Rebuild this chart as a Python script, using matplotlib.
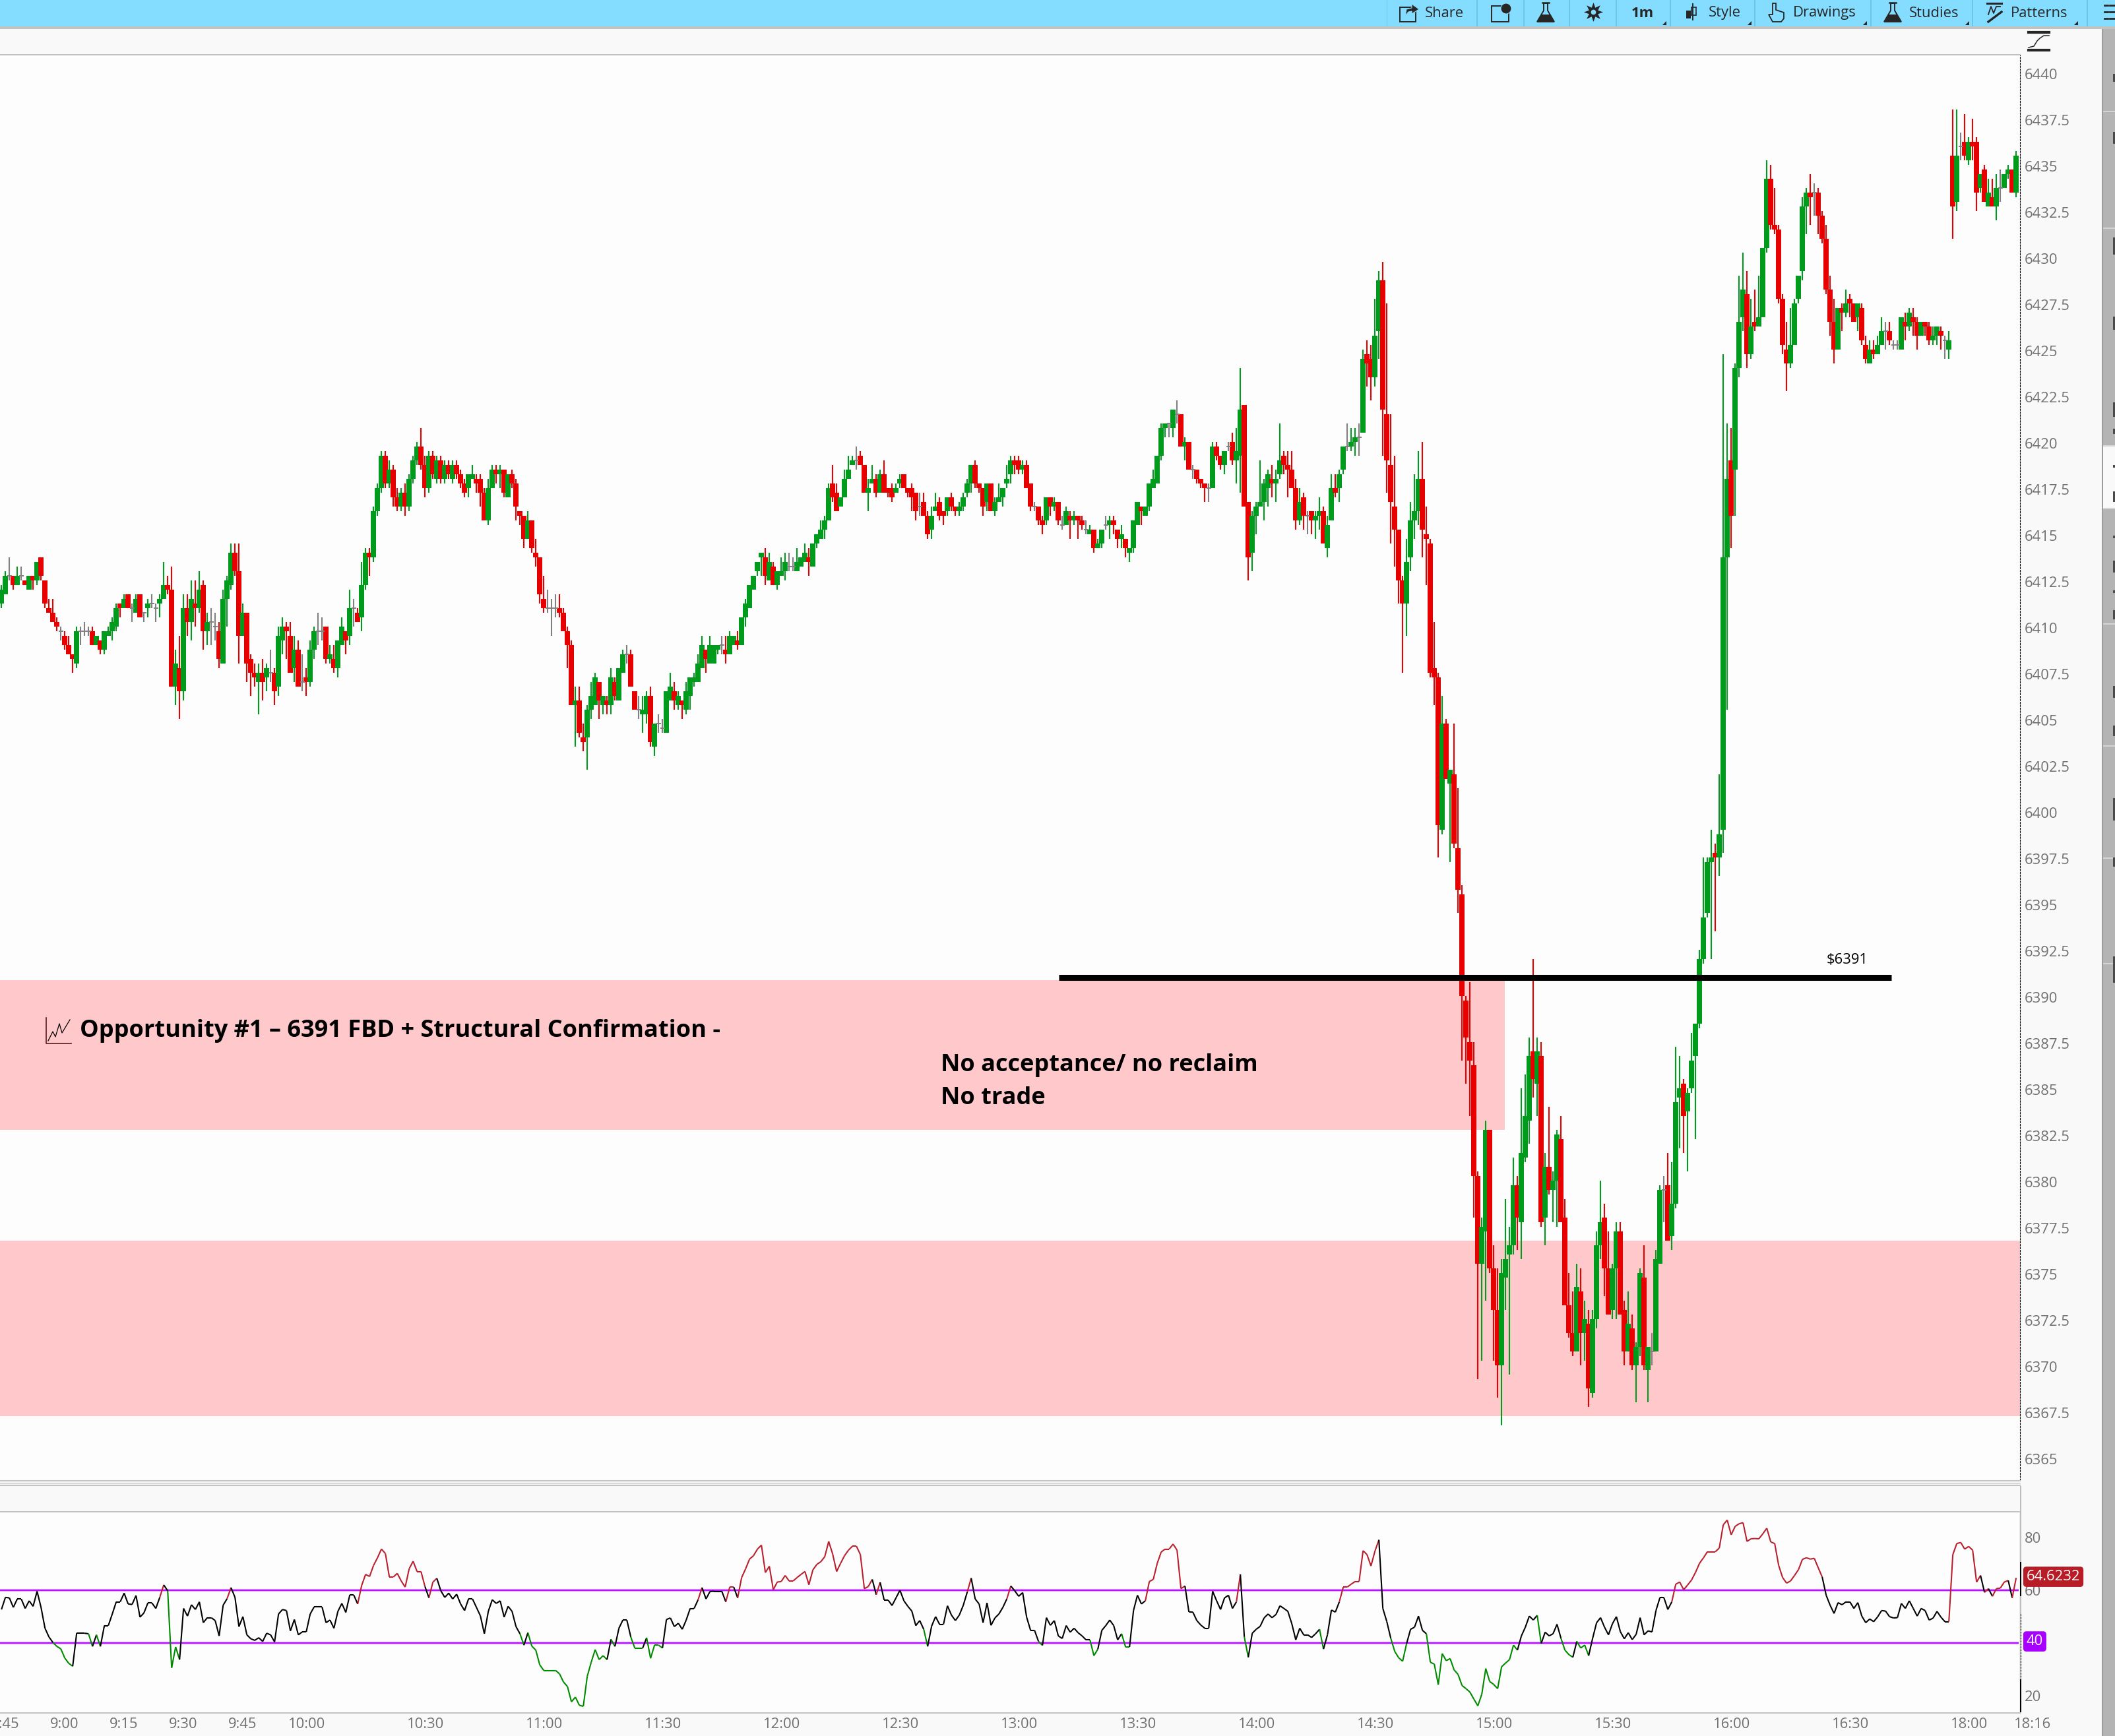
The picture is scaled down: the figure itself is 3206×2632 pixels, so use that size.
import numpy as np
import matplotlib
matplotlib.use('Agg')
import matplotlib.pyplot as plt
from matplotlib.collections import LineCollection
from matplotlib.patches import Rectangle, Polygon, Circle
from matplotlib.transforms import ScaledTranslation

plt.rcParams['font.family'] = ['Open Sans', 'DejaVu Sans']

# 1 minute bars, first bar is about 8:44
opens = [
6411.25,6411.75,6412.75,6412.75,6412.25,6412.75,6412.5,6412,6412.75,6412.5,
6413.75,6412.5,6411,6410.75,6410.25,6409.75,6409.5,6409,6408.5,6408,
6409.75,6409.75,6409.75,6409.75,6409,6409.25,6408.75,6409.5,6409.75,6410,
6411.25,6411,6411.75,6411,6410.75,6411.75,6410.75,6411,6411.25,6411,
6411.25,6411.5,6412.25,6412,6406.75,6407.75,6406.5,6411,6410.25,6411.25,
6411,6412.25,6409.75,6410.25,6410,6409.75,6408,6411.5,6412.25,6414,
6413,6409.5,6410.75,6408.25,6407.5,6407,6407.5,6407.25,6407.5,6407.5,
6406.75,6409.25,6410,6409.5,6407.75,6408.75,6407,6407.25,6407,6408.75,
6409.75,6409.75,6410,6408.25,6408.25,6407.75,6409,6409.75,6409.5,6411,
6410.75,6410.5,6412.25,6414,6413.75,6416.25,6417.5,6419.25,6417.75,6418.5,
6417,6416.5,6417.25,6416.5,6418,6419,6419.75,6418.75,6417.5,6419.25,
6418,6419,6418,6418.75,6418,6418.75,6418.25,6417.75,6417.5,6418,
6418,6418,6417.25,6415.75,6417.5,6418.5,6418.25,6418.5,6417,6418.25,
6417.75,6416.25,6416,6414.75,6415.75,6414,6413.75,6411.5,6411,6411,
6411,6411,6410.75,6409.75,6409,6405.75,6406,6404,6404,6405.5,
6405.75,6407,6405.75,6406,6405.75,6407,6406,6407.5,6408.5,6408.5,
6406.5,6405.5,6405.25,6405.25,6406.25,6403.5,6404.75,6404.5,6404.25,6406,
6406.5,6405.75,6406,6405.5,6406.25,6407,6407,6407.75,6408.75,6408,
6408,6408.75,6409,6408.75,6408.5,6409,6409.25,6409,6410.5,6411,
6412,6413,6413.75,6413.75,6412.5,6413.25,6412.25,6412.75,6413,6413.25,
6413.25,6413,6413.25,6413.5,6413.75,6413.25,6414.5,6414.75,6415.25,6415.75,
6417.75,6417.25,6416.5,6417,6418,6418.75,6419,6419.25,6418.75,6417.25,
6417.75,6418,6417.25,6418.25,6417.5,6417.5,6417.25,6417.75,6418.25,6417.5,
6417.5,6417.25,6416.5,6416.75,
6416,6415.25,6416.25,6416.75,6416.25,6416.25,6417,6416.5,6416.25,6416.5,
6417.25,6417.75,6418.75,6417.75,6417.5,6416.75,6417.75,6416.25,6416.75,6417,
6417.75,6418.25,6419,6419,6418.5,6418.75,6417.75,6416.5,6416.5,6415.75,
6415.75,6417,6416.5,6416.75,6415.5,6415.5,6416,6415.75,6416,6415.75,
6415.25,6415,6415.25,6414.25,6414.5,6415.5,6415.5,6415.75,6415.25,6414.75,
6414.75,6414,6414.25,6415.5,6416.5,6416,6416.5,6417.5,6417.75,6419.25,
6420.75,6421,6420.75,6421.5,6421.5,6419.75,6420,6418.5,6418.5,6418,
6417.75,6417.5,6417.5,6419.75,6419.25,6418.75,6419.75,6420,6419,6419.25,
6422,6416.75,6414,6416,6416.5,6416.75,6417.5,6418,6417.75,6418.25,
6419.25,6418.75,6418.5,6417.5,6415.75,6417,6416,6416.25,6415.75,6416,
6416.25,6414.25,6415.75,6417.5,6417.5,6418.5,6419.75,6419.75,6420,6420.25,
6420.5,6424.75,6424.5,6423.5,6426,6428.75,6421.5,6418.75,6416.5,6415.25,
6412.5,6411.25,6413.75,6415.75,6416.25,6418,6415,6414.5,6407.75,
6407.25,6399,6404.75,6401.5,6402,6398,6395.5,
6389.75,6387.5,6386.25,6380.25,6375.5,6377.25,6382.75,6375.25,6373,6370,
6374.75,6376,6376.5,6379.75,6377.75,6381.25,6383.25,6387,6385.25,6386.75,
6378,6380.75,6379.5,6380,6382.25,6378,6373.25,6371.75,6370.75,6374,
6371.75,6372.25,6368.5,6372.5,6376.5,6378,6375.25,6373,6375.25,6377.25,
6373,6370.75,6372,6370,6371,6374.75,6369.75,6370.75,6370.75,6375.5,
6379.5,6379.75,6377,6378.75,6384.5,6385.25,6383.75,6385,6386.75,6388.5,
6392,6394.5,6397.25,6397.75,6397.5,6399,6413.75,6419,6418.5,6424,
6426.75,6428,6424.75,6426.5,6426.25,6426.75,6430.5,6434.25,6431.75,6431.5,
6427.75,6425,6424.25,6425.25,6427.75,6429.25,6432.75,6433.5,6433.5,6433.5,
6432.25,6431,6428.25,6426.5,6425,6427.25,6427,6427.75,6427.5,6426.75,
6427.25,6425.25,6424.25,6425,6424.75,6425.25,6426,6426,6425.25,6425.25,
6425,6426.5,6426.25,6426.75,6426.5,6425.75,6426.5,6426.25,6425.5,6425.75,
6426,6425.5,6425,6435.5,6433,6436,6436.25,6435.25,6436.25,6436.25,
6433.75,6434.75,6432.75,6433.25,6432.75,6433.75,6433.75,6434.5,6434.75,6433.5]

closes = [
6412,6412.75,6412.75,6412.25,6412.75,6412.75,6412.25,6412.75,6412.5,6413.5,
6412.75,6411.25,6410.75,6410.25,6410,6409.75,6409,6408.5,6408.25,6409.75,
6409.75,6409.75,6409.75,6409,6409.5,6408.75,6409.75,6409.75,6410.25,6411,
6411,6411.5,6411,6411,6411.5,6410.5,6410.75,6411.25,6411.25,6411,
6411.5,6412.25,6412,6406.75,6408,6406.5,6411,6410.25,6411.5,6411,
6412,6409.75,6410.25,6410.25,6410,6408.25,6411.5,6412.5,6414,6413,
6409.5,6410.75,6408,6407.5,6407.25,6407.5,6407,6407.75,6407.5,6406.5,
6409.5,6410,6409.75,6407.5,6408.75,6406.75,6407,6407,6408.75,6409.75,
6409.75,6409.75,6408.25,6408.5,6407.75,6409.25,6410,6409.25,6411,6411,
6410.25,6412.25,6414,6413.75,6416.25,6417.5,6419.25,6417.75,6418.5,6417,
6416.5,6417.25,6416.5,6418,6419,6419.75,6418.75,6417.5,6419.25,6418.25,
6419,6418,6418.75,6418.25,6418.75,6418.25,6417.75,6417.25,6418.25,6418.25,
6417.75,6417.25,6415.75,6417.5,6418.5,6418.25,6418.5,6417.25,6418.25,6417.75,
6416.5,6416,6414.75,6415.75,6414.25,6413.75,6411.75,6411,6411,6411,
6411,6410.75,6409.75,6409,6405.75,6406,6404.25,6403.75,6405.5,6406.25,
6407.25,6406,6406.25,6405.75,6407.25,6406.25,6407.75,6408.5,6408.5,6406.75,
6405.5,6405.5,6405.5,6406.25,6403.75,6404.75,6404.75,6404.5,6406.5,6406.75,
6406,6406.25,6405.75,6406.5,6407.25,6407.25,6408,6409,6408.25,6409,
6409,6409,6409,6408.5,6409.5,6409.5,6409,6410.5,6411.25,6412.25,
6412.75,6413.5,6414,6412.75,6413.5,6412.25,6413,6413,6413.5,6413.25,
6413.25,6413.5,6413.75,6414,6413.5,6414.5,6415,6415.25,6415.75,6417.5,
6417,6416.25,6417,6418,6418.5,6419,6419,6418.75,6417.25,6417.5,
6418,6417.25,6418.25,6417.25,6417.25,6417,6417.5,6418,6417.5,6417.25,
6417,6416.25,6416.5,6416,
6415,6416,6416.5,6416,6416,6417,6416.5,6416.25,6416.5,6417,
6417.75,6418.75,6417.75,6417.5,6416.5,6417.75,6416.25,6416.75,6417,6417.5,
6418,6419,6418.75,6418.5,6418.75,6417.5,6416.5,6416.5,6415.75,6415.5,
6417,6416.5,6416.75,6415.75,6415.5,6416.25,6415.75,6416,6415.75,6415.5,
6415.25,6415.25,6414.25,6414.5,6415.25,6415.5,6415.75,6415.5,6414.75,6415,
6414.25,6414.25,6415.75,6416.75,6416.25,6416.5,6417.75,6418,6419.25,6420.75,
6421,6421,6421.75,6421.5,6419.75,6420,6418.5,6418.5,6418,6417.75,
6417.5,6417.5,6419.75,6419.25,6418.75,6419.5,6419.75,6419,6419.5,6421.75,
6416.5,6413.75,6416,6416.5,6416.75,6417.75,6418.25,6417.75,6418,6419,
6418.75,6418.5,6417.5,6415.75,6416.75,6416,6416,6415.75,6416,6416.25,
6414.5,6415.5,6417.5,6417.25,6418.25,6419.75,6419.75,6420,6420.25,6420.25,
6424.5,6424.25,6423.5,6425.75,6428.75,6421.75,6419,6416.75,6415.25,6412.5,
6411.25,6413.5,6415.75,6416.25,6418,6415.25,6414.75,6407.5,6407.25,
6399.25,6404.75,6401.75,6402.25,6398.25,6395.75,6390,
6387.75,6386.5,6380.25,6375.5,6377.5,6382.75,6375.25,6373,6370,6375,
6375.75,6376.5,6379.75,6378,6381.5,6383.5,6386.75,6385.5,6387,6377.75,
6380.75,6379.5,6380,6382.5,6377.75,6373.25,6371.75,6370.75,6374.25,6371.75,
6372.5,6368.75,6372.5,6376.5,6377.75,6375.25,6372.75,6375.25,6377.25,6372.75,
6370.75,6372.25,6370,6371,6375,6370,6371,6370.75,6375.75,6379.5,
6379.5,6376.75,6378.75,6384.25,6385,6383.5,6384.75,6386.5,6388.5,6392,
6394.25,6397.25,6397.5,6397.5,6398.75,6413.75,6418,6416,6424,6426.5,
6428.25,6424.75,6426.25,6426.25,6426.75,6430.5,6434.25,6431.75,6431.5,6427.75,
6425.25,6424.25,6425.25,6427.5,6429,6432.75,6433.5,6433.25,6433.5,6432.25,
6431,6428.25,6426.5,6425,6427.25,6427,6427.5,6427.5,6426.5,6427.5,
6425.5,6424.5,6425,6424.75,6425.25,6426,6426,6425.5,6425.25,6425.25,
6426.75,6426.25,6427,6426.5,6425.75,6426.5,6426.25,6425.5,6425.75,6426.25,
6425.75,6425.5,6425.5,6432.75,6435.5,6436,6435.5,6436.25,6436,6433.5,
6434.5,6433,6433.5,6432.75,6433.75,6433.75,6434.5,6434.75,6433.5,6435.5]

highs = [
6412.25,6413,6413.75,6412.75,6413.25,6413.25,6412.5,6412.75,6412.75,6413.5,
6413.75,6412.5,6411.5,6411.5,6410.5,6410,6409.75,6409.5,6408.5,6410,
6410,6410.25,6410,6410,6409.5,6409.25,6409.75,6410,6410.5,6411.25,
6411.25,6411.75,6411.75,6411.25,6411.75,6411.75,6410.75,6411.5,6411.75,6411.25,
6411.75,6413.5,6412.75,6413.25,6408.75,6409.5,6411.75,6411.75,6412.5,6412.5,
6413,6412.5,6410.75,6411,6410.75,6410.25,6412,6412.75,6414.5,6414.5,
6414.5,6411.25,6410.75,6408.5,6408,6408,6408.25,6408,6408.75,6407.75,
6410,6410.5,6410.25,6410.25,6409.5,6409.25,6408.5,6407.75,6409.25,6410,
6410.75,6410.5,6410,6409,6409,6409.25,6410.5,6409.75,6412,6411.5,
6411,6413.5,6414.25,6414.25,6416.5,6417.75,6419.5,6419.5,6419,6418.75,
6417.5,6417.5,6417.75,6418.25,6419.25,6420,6420.75,6419.25,6419.5,6419.5,
6419.25,6419.25,6419,6419,6419,6419,6418.5,6418,6418.25,6418.75,
6418.25,6418.25,6417.5,6418,6418.75,6418.75,6418.75,6418.5,6418.25,6418.5,
6418,6416.25,6416,6416.25,6415.75,6414.75,6413.75,6412.75,6412,6411.5,
6411.75,6411.75,6411,6410,6409.25,6406.75,6406.75,6404.75,6405.75,6407,
6407.5,6407,6406.25,6406.25,6407.75,6407.25,6407.75,6408.75,6409,6408.75,
6406.5,6406.25,6406.25,6406.5,6406.75,6404.75,6405.25,6405,6406.5,6407.5,
6407,6406.5,6406,6407,6407.25,6407.5,6408.5,6409.5,6408.75,6409.5,
6409,6409,6409.5,6409.5,6409.75,6409.5,6409.75,6410.5,6411.5,6412.25,
6412.75,6413.5,6414,6414.25,6414,6413.5,6413,6413.75,6414,6414,
6413.75,6414.25,6413.75,6414.5,6414.25,6414.5,6415,6415.75,6416,6417.75,
6418.75,6417.75,6417,6418.5,6419.25,6419.25,6419.75,6419.5,6418.75,6418,
6418.75,6418.25,6418.5,6419,6417.5,6417.75,6417.75,6418.25,6418.25,6417.5,
6417.75,6417.25,6417.25,6417.25,
6416.25,6416.5,6417.25,6417,6416.25,6417,6417.25,6416.5,6416.75,6417.25,
6418,6418.75,6419,6417.75,6417.5,6417.75,6417.75,6417,6417.75,6417.5,
6418.75,6419.25,6419.25,6419.25,6419,6419,6417.75,6416.75,6416.5,6416,
6417,6417,6417,6416.75,6416,6416.5,6416.25,6416.25,6416,6416,
6415.75,6415.5,6415.25,6414.75,6415.25,6416,6416,6416,6415.25,6415.5,
6414.75,6414.25,6415.75,6416.75,6416.5,6416.5,6417.75,6418.5,6419.25,6421,
6421,6421,6421.75,6422.25,6421.5,6420.25,6420,6418.75,6418.5,6418,
6417.75,6417.75,6420,6420,6419.25,6419.5,6420,6420.5,6420.75,6424,
6422,6416.75,6416.25,6416.75,6419,6418,6418.5,6418.75,6418.5,6421,
6419.5,6419.5,6419.5,6418,6417.5,6417.25,6416.25,6416.25,6416.25,6417,
6416.5,6416,6418.25,6418.25,6418.5,6419.75,6421,6420.75,6420.75,6421,
6425,6425.5,6425.25,6427.75,6429.25,6429.75,6427.5,6421.5,6419.25,6415.25,
6412.75,6414.75,6416.75,6418.25,6419.5,6420,6416.5,6414.75,6410.25,
6407.5,6406.25,6405,6402.25,6404.75,6401.25,6396,
6390,6390.75,6387.5,6380.5,6378,6383.25,6382.75,6376.5,6375.25,6375.75,
6379,6377.5,6381.25,6380.25,6385,6385.75,6387.75,6392,6387.75,6387.5,
6381.5,6384,6380.5,6382.75,6383.5,6379,6375,6374,6375.5,6375.25,
6373.5,6373,6373,6377.25,6380,6378.75,6377.25,6375.5,6377.75,6377.75,
6373.5,6374,6372.75,6371.25,6375.25,6376.5,6371,6371.75,6376.25,6379.75,
6380.25,6381.5,6381,6387.25,6386.75,6385.5,6385,6388,6388.5,6392.5,
6397.5,6397.5,6399,6398.25,6402,6424.75,6421,6420.75,6424.25,6429,
6430.25,6429.25,6427.75,6428.25,6429,6430.5,6435.25,6435,6433.75,6431.75,
6428,6426.5,6427.25,6427.75,6429,6433.25,6433.75,6434.5,6434,6433.75,
6432.5,6431.75,6429,6427.75,6425,6427.5,6428.25,6428,6427.5,6427.5,
6427.5,6425.75,6425.5,6425.5,6425.75,6426.75,6426.5,6426.5,6425.5,6425.5,
6426.75,6427,6427.25,6427.25,6426.75,6426.5,6426.5,6426.5,6426.25,6426.25,
6426.25,6425.75,6426,6438,6438,6436.75,6437.75,6436.5,6437.5,6436.5,
6434.5,6435,6434.25,6434.25,6434.5,6434.75,6434.5,6435,6434.75,6435.75]

lows = [
6411,6411.75,6412.5,6412,6412.25,6412.5,6412.25,6412,6412,6412.25,
6412.5,6411,6410.75,6410.25,6409.75,6409.25,6408.75,6408.5,6407.5,6407.75,
6409,6409.5,6409.5,6409,6409,6408.5,6408.5,6409.5,6409.25,6409.75,
6410.5,6411,6411,6410.25,6410.75,6410.5,6410.25,6410.5,6411,6410.25,
6410.5,6411.5,6411.75,6406.75,6405.75,6405,6406,6409.5,6409.25,6410,
6410.75,6408.75,6409,6409,6409.25,6407.75,6408,6410,6412,6412.75,
6408,6409.5,6407,6406.25,6406.75,6405.25,6406,6406.5,6407,6405.75,
6406.25,6408.5,6408.25,6407.5,6407,6406.75,6406.5,6406.25,6406.75,6408.25,
6409,6409.25,6408,6408,6407.5,6407.25,6409,6408.5,6409,6410,
6410.25,6409.75,6412,6412.75,6413.5,6416,6417.25,6417.5,6417.5,6416.5,
6416.25,6416.25,6416,6416.25,6417.75,6418.75,6418.5,6417,6417.25,6418,
6417.75,6417.75,6417.75,6418,6417.75,6418,6417.5,6417,6417,6418,
6417.25,6416.5,6415.75,6415.5,6417.5,6417.75,6417.5,6417,6417,6417.5,
6415.75,6415.5,6414.25,6414.75,6414,6413.25,6411.25,6410.75,6410.75,6409.5,
6410.5,6410.5,6409.75,6407.75,6405.75,6403.5,6404,6403.25,6402.25,6405,
6405.75,6405,6405.25,6405.25,6405.25,6406,6406,6407.5,6408,6406.75,
6405.5,6405,6404.25,6404.75,6403.5,6403,6404.25,6404.25,6404.25,6406,
6405.5,6405.5,6405,6405.25,6405.5,6406.75,6407,6407.75,6407.5,6408,
6408,6408.5,6408.5,6408,6408.5,6409,6408.75,6409,6410,6411,
6412,6412.75,6412.75,6412.25,6412.5,6412.25,6412,6412.75,6412.5,6413,
6413,6413,6413.25,6413.5,6412.75,6413.25,6414.25,6414.75,6414.75,6415.75,
6416.75,6416.25,6416.5,6417,6418,6418.75,6418.5,6418.75,6417.25,6416.25,
6417.75,6417,6417.25,6417.25,6417,6416.75,6417.25,6417.5,6417.5,6417,
6416.25,6415.75,6416,6416,
6414.75,6414.75,6416.25,6415.75,6415.5,6416,6416.25,6416,6416,6416.25,
6417,6417.25,6417.5,6417.25,6416,6416.25,6416.25,6416,6416.75,6416.5,
6417.5,6417.75,6418.25,6418.25,6418.25,6417.5,6416.25,6416.25,6415.5,6415,
6415.5,6416,6416.25,6415.5,6415.25,6415.5,6414.75,6415.5,6414.75,6415.25,
6415,6415,6414,6414.25,6414.25,6415.25,6414.75,6415,6414.25,6414.25,
6413.75,6413.5,6414,6415.5,6415.5,6416,6416.25,6417.5,6417.75,6419,
6420.25,6420.25,6420.25,6421,6419.75,6419,6418.5,6418,6417.75,6417.5,
6416.75,6416.75,6417.5,6419,6418.5,6418.25,6419.5,6418.75,6417.75,6417.25,
6416.5,6412.5,6413,6415,6416.5,6415.75,6416.5,6417,6416.75,6418,
6418.25,6417,6417.5,6415.25,6415.5,6415.25,6415,6415,6414.75,6415.25,
6414.5,6413.75,6415.75,6417,6416.75,6418.25,6419.5,6419.5,6419.25,6419.25,
6420.5,6423,6422.25,6423,6424.5,6419.25,6417.25,6414.5,6413.25,6411.25,
6407.5,6409.5,6413,6414.75,6415.5,6413.75,6412.25,6407.25,6405.75,
6397.5,6398.75,6401.75,6397.25,6398,6394.5,6386.5,
6385.25,6383.5,6378,6369.25,6370.25,6373.5,6375,6370.25,6368.25,6366.75,
6373,6369.5,6376,6376.25,6375.75,6381,6382,6384.5,6383.5,6377.5,
6376.5,6379.25,6377.75,6377.5,6377.75,6373.25,6371.5,6370.5,6370.75,6370,
6370.25,6367.75,6368.25,6372,6375.75,6373.75,6372.75,6372.5,6372.5,6372.75,
6370,6370.75,6369.75,6368,6370.5,6369.75,6368,6370,6370.75,6375.5,
6377.75,6376.75,6376.25,6378.5,6381.75,6381.5,6380.5,6384.75,6382.25,6388.25,
6391.75,6394.25,6392,6393.5,6396.5,6397.75,6405.5,6414.25,6416,6423.5,
6426,6424,6424.5,6426,6426.25,6426.75,6430.25,6431.5,6431.25,6427.5,
6424.75,6422.75,6424,6425.25,6427.5,6428.75,6431.25,6431.75,6432.25,6431.25,
6430.75,6428,6425.75,6424.25,6425,6426,6426.75,6426.75,6426.5,6426,
6425.25,6424.25,6424.25,6424.5,6424.75,6425.25,6425,6425.25,6425,6425,
6425,6425.5,6426,6425.75,6425,6425.75,6425.75,6425.25,6425.25,6425.25,
6425,6424.5,6424.5,6431,6432.5,6435.25,6435.25,6435,6435.25,6432.5,
6433.5,6433,6432.75,6432.75,6432,6433,6433.75,6434.25,6433.5,6433.25]

rsi = [
52.6,57.2,57,53.4,56.6,56.6,53,55.9,53.8,59.5,53.4,45.5,42.2,40.1,38.6,37.7,34.2,32.2,31.1,43.6,
43.6,43.6,43.4,38.6,43,38.6,46.5,46.5,50.9,55.5,55.5,58.8,54.7,54.5,57.9,49.7,51.3,55.1,55.1,53,
57.2,61.9,59.7,30.5,38.4,33.6,53,50.1,54.4,52.6,55.5,47.6,49.5,49.5,48.4,42.6,54.2,56.7,60.9,57.2,
46.1,49.9,43,41.5,40.9,41.9,40.5,43.6,43,40.3,50.9,52.6,52.2,44.5,48.8,43,44.1,44.1,50.9,53.6,
53.6,53.6,47.6,48.6,45.5,51.9,54.9,51.5,58.1,58.1,54.7,61.7,65.9,65.1,69.3,72.2,75.5,73.8,64.9,64.9,
66.3,63.4,61.1,68,70.9,67,67,61.3,57,63,64.4,59.7,57.2,58.8,56.6,58.4,54.7,52.2,56.6,56.6,
53.4,50.2,43.4,51.9,56.3,54.9,55.9,49.7,53.8,51.9,46.1,43.4,39.1,43.8,38.7,37.2,31.6,29.5,29.5,29.5,
29.5,28.2,25.1,23.4,17.6,19.4,16.3,15.9,27.3,32.6,37.4,33.6,35.1,33.6,41.3,38.6,45.5,48.6,48.6,42.2,
38,38,38,41.9,34.1,39.1,39.1,38,48.8,49.4,46.1,47.4,45.1,48.6,53,53,56.3,60.9,56.6,59.4,
59.5,59.5,59.5,55.5,61.1,61.1,57,64.7,68,71.7,73,75.5,77,66.6,69,60.1,63,63.2,65.5,63.4,
63.4,64.7,65.9,67,62,67.6,69.7,70.7,72.6,78.4,73.6,67,70.1,73,75.1,76.6,76.6,73.4,60.5,61.3,
64,58.2,62.9,56.2,56.2,54.1,57,59.9,55.9,53.8,52,46.5,48.4,45.1,38.6,46.3,49.9,47,47,54,
50.5,48.4,50.5,54.2,59.2,64.5,56.6,54.7,47.6,55.1,46.6,49.4,50.9,53.4,56.6,61.5,59.7,57.6,59,49.7,
44.7,44.7,40.5,39,49.5,46.6,48.4,42.6,41.6,46.5,44,45.5,43.8,42.6,41.1,41.1,35.1,37.6,44.7,46.5,
48.6,46.5,41.1,43.4,38.4,38.4,52.2,58,54.7,55.9,63.2,64,70.1,74.4,75.5,75.5,77.4,75.1,60.5,61.5,
51.7,51.6,48.4,46.7,45.5,45.5,59.5,55.9,52.6,57,58,53,55.5,65.9,42.2,34.5,43.6,45.1,46.2,49.4,
50.9,49.5,50.7,54,53,51.9,47.2,41.1,45.5,43,43,42,43.4,45.1,37.6,43,52.4,51.6,55.5,61.1,
61.1,62.2,63.2,63.2,74.9,73.4,69.1,74.7,79,53,48,41.7,36.7,34.3,33,39.7,45.1,45.9,50.1,44.7,
43.4,32.6,31.9,24.1,35.9,33.2,34,29.7,28,23.8,22.6,21.3,18.6,16.1,20.5,30.2,25.3,24.2,22.6,30.9,
32.3,33.6,39.1,37.2,42.6,45.9,50.1,48.6,50.4,39.7,44,42.6,43.4,47,41.7,37.2,35.5,34.5,40.5,38,
39.1,35.1,41.7,47.6,49.5,45.9,43,47.2,49.9,44.2,41.5,43.8,41.2,43.2,49.5,43,44.5,44.1,52.2,57.1,
57.1,52.6,55.5,62.2,63,60.1,61.9,63.8,66.7,70.1,72.2,74.5,74.5,74.5,75.9,84.7,86.5,80.9,84.1,85.1,
85.5,78.4,79.4,79.5,79.4,81.3,83.4,78.2,77.6,69.3,64.7,62.6,63.4,65.5,67.7,71.6,72.2,71.7,72,68.4,
64.9,58,54.2,51.1,55.2,54.4,55.5,55.5,53,55.2,50.1,47.6,49,48,49.8,52.2,52,49.9,49.4,49.5,
54.9,53,55.9,53,50.1,53,52.2,48.6,49.3,51.9,49.7,48,48,73.4,77.6,78,75.5,76.5,75.1,63,
65.5,59.1,60.5,57.6,60.5,60.7,63,63.6,57,64.6]

price_ticks = [6440 - 2.5 * k for k in range(31)]
rsi_ticks = [80, 60, 20]
rsi_levels = [60, 40]
time_ticks = [1, 16, 31, 46, 61, 76, 106, 136, 166, 196, 226, 256, 286, 316, 346, 376, 406, 436, 466, 496, 512]
time_labels = ['8:45', '9:00', '9:15', '9:30', '9:45', '10:00', '10:30', '11:00', '11:30', '12:00', '12:30',
               '13:00', '13:30', '14:00', '14:30', '15:00', '15:30', '16:00', '16:30', '18:00', '18:16']

W, H = 3206, 2632
RED = '#e60000'
GREEN = '#009a1d'
GREY = '#808080'
TICK = '#707070'
PINK = '#ffc9cb'
PANEL = '#fdfdfd'
STRIP = '#f9f9f9'
EDGE = '#c2c2c2'
TXT = 15.8
NOTE = 26

opens = np.array(opens)
closes = np.array(closes)
highs = np.array(highs)
lows = np.array(lows)
rsi = np.array(rsi)
idx = np.arange(len(closes))

fig = plt.figure(figsize=(W / 100, H / 100), dpi=100, facecolor=STRIP)
XLIM = (-0.367, 530.97)


def box(top, bottom):
    return [0, 1 - bottom / H, 3188 / W, (bottom - top) / H]


# price panel
ax = fig.add_axes(box(84, 2244))
ax.set_facecolor(PANEL)
ax.set_xlim(*XLIM)
ax.set_ylim(6363.8, 6440.94)
ax.axvspan(510, 531, color=STRIP, lw=0, zorder=0)
ax.axhspan(6382.75, 6390.87, xmax=(379.8 - XLIM[0]) / (XLIM[1] - XLIM[0]), color=PINK, lw=0, zorder=1)
ax.axhspan(6367.25, 6376.75, xmax=(510 - XLIM[0]) / (XLIM[1] - XLIM[0]), color=PINK, lw=0, zorder=1)

colors = [GREEN if c > o else RED if c < o else GREY for o, c in zip(opens, closes)]
ax.vlines(idx, lows, highs, colors=colors, lw=1.5, zorder=2)
solid = opens != closes
ax.bar(idx[solid], np.abs(closes - opens)[solid], bottom=np.minimum(opens, closes)[solid], width=7.5 / 6,
       color=[c for c, s in zip(colors, solid) if s], lw=0, zorder=3)
ax.hlines(closes[~solid], idx[~solid] - 0.6, idx[~solid] + 0.6, colors=GREY, lw=1.4, zorder=3)

ax.hlines(6391, 267.2, 477.5, colors='black', lw=6.5, zorder=4)
ax.text(461, 6391.95, '$6391', fontsize=TXT, color='black', va='center', parse_math=False, zorder=5)
ax.text(19.8, 6388.12, 'Opportunity #1 – 6391 FBD + Structural Confirmation -', fontsize=NOTE, fontweight='bold',
        color='black', va='center', zorder=5)
ax.text(237.3, 6386.26, 'No acceptance/ no reclaim', fontsize=NOTE, fontweight='bold', color='black', va='center', zorder=5)
ax.text(237.3, 6384.47, 'No trade', fontsize=NOTE, fontweight='bold', color='black', va='center', zorder=5)

# rsi panel
rx = fig.add_axes(box(2293, 2597))
rx.set_facecolor(PANEL)
rx.set_xlim(*XLIM)
rx.set_ylim(13.4, 89.4)
rx.axvspan(510, 531, color=STRIP, lw=0, zorder=0)
for lev in rsi_levels:
    rx.hlines(lev, XLIM[0], 509.6, colors='#e2a6ff', lw=3, zorder=1)
    rx.hlines(lev, XLIM[0], 509.6, colors='#b400ff', lw=1.3, zorder=2)
pts = np.column_stack([idx, rsi])
segs = np.stack([pts[:-1], pts[1:]], axis=1)
seg_colors = ['#b8202e' if v >= 60 else '#008a00' if v <= 40 else 'black' for v in rsi[1:]]
rx.add_collection(LineCollection(segs, colors=seg_colors, linewidths=1.5, zorder=3))
rx.text(511.6, rsi[-1] + 0.4, '64.6232', fontsize=TXT, color='white', va='center', ha='left', zorder=6,
        bbox=dict(boxstyle='round,pad=0.22', fc='#b81c26', ec='none'))
rx.text(511.6, 40.5, '40', fontsize=TXT, color='white', va='center', ha='left', zorder=6,
        bbox=dict(boxstyle='round,pad=0.22', fc='#a800ff', ec='none'))

# axes and tick labels
for a in (ax, rx):
    for name in ('top', 'left', 'bottom'):
        a.spines[name].set_visible(False)
    a.spines['right'].set_position(('data', 510))
    a.yaxis.tick_right()
    a.tick_params(axis='y', length=0, pad=4.5, labelsize=TXT, labelcolor=TICK)
    a.tick_params(axis='x', length=0, labelsize=TXT, labelcolor=TICK)
ax.spines['right'].set_color('black')
ax.spines['right'].set_linestyle((0, (2, 2)))
ax.spines['right'].set_linewidth(0.8)
rx.spines['right'].set_color('#9a9a9a')
rx.spines['right'].set_linewidth(1)

ax.set_xticks([])
ax.set_yticks(price_ticks)
ax.set_yticklabels([f'{t:g}' for t in price_ticks])
for lbl in ax.get_yticklabels():
    lbl.set_transform(lbl.get_transform() + ScaledTranslation(0, -2 / 100, fig.dpi_scale_trans))

rx.set_yticks(rsi_ticks)
rx.set_yticklabels([str(t) for t in rsi_ticks])
rx.set_xticks(time_ticks)
rx.set_xticklabels(time_labels, ha='left')
rx.tick_params(axis='x', pad=5)
for lbl in rx.get_xticklabels():
    lbl.set_transform(lbl.get_transform() + ScaledTranslation(-22 / 100, 0, fig.dpi_scale_trans))

# window chrome in pixel coordinates
ch = fig.add_axes([0, 0, 1, 1], zorder=10)
ch.set_xlim(0, W)
ch.set_ylim(H, 0)
ch.axis('off')
ch.patch.set_alpha(0)
DARK = '#262626'


def rect(x, y, w, h, color, z=1):
    ch.add_patch(Rectangle((x, y), w, h, fc=color, ec='none', zorder=z))


rect(0, 0, W, 40, '#84dcff')
rect(0, 40, W, 4, EDGE)
rect(0, 82, 3063, 2, EDGE)
rect(0, 2244, 3063, 2, EDGE)
rect(0, 2248, 3063, 2, '#dadada')
rect(0, 2251, 3063, 2, EDGE)
rect(0, 2291, 3063, 2, EDGE)
rect(0, 2596, 3063, 2, EDGE)
rect(3062, 2253, 1.5, 340, '#bdbdbd', 2)
rect(3062, 2368, 1.5, 52, 'black', 3)
ch.plot([3062.7, 3062.7], [2447, 2546], color='black', lw=0.8, ls=(0, (2, 2)), zorder=3)
rect(3062, 2546, 1.5, 50, 'black', 3)

# side rail, its tab captions are cut off at the picture edge
rect(3186, 44, 2, H - 44, '#9c9c9c')
rect(3188, 44, 18, H - 44, '#b4b4b4')
rect(3188, 675, 18, 95, STRIP, 2)
for y in (168, 345, 675, 770, 945, 1130, 1300, 1460):
    rect(3188, y, 18, 1.5, '#d4d4d4', 2)
for y, h in ((112, 12), (200, 18), (360, 26), (480, 20), (610, 22), (650, 8), (705, 4), (745, 16), (812, 4), (850, 18),
             (895, 4), (925, 14), (1040, 18), (1100, 16), (1210, 34), (1300, 14), (1450, 40)):
    rect(3203, y, 3, h, '#4a4a4a', 3)

for x in (2101.5, 2238, 2309, 2378, 2449, 2531, 2659, 2835, 2989, 3163):
    rect(x, 0, 1.5, 40, '#6cc6ea', 2)
for x in (2523, 2651.5, 2827, 2981.5, 3147):
    ch.add_patch(Polygon([[x + 3, 32], [x + 3, 38], [x - 3, 38]], fc=DARK, ec='none', zorder=3))

for x, label in ((2160, 'Share'), (2590, 'Style'), (2718, 'Drawings'), (2894, 'Studies'), (3048, 'Patterns')):
    ch.text(x, 20, label, fontsize=TXT, color='#262626', va='center', ha='left', zorder=4)
ch.text(2490, 20, '1m', fontsize=TXT, color='#262626', fontweight='bold', va='center', ha='center', zorder=4)


def flask(cx):
    ch.add_patch(Polygon([[cx - 3, 5], [cx + 3, 5], [cx + 3, 16], [cx + 13, 33], [cx - 13, 33], [cx - 3, 16]],
                         fc='none', ec=DARK, lw=1.4, zorder=4))
    ch.add_patch(Polygon([[cx - 7, 22], [cx + 7, 22], [cx + 13, 33], [cx - 13, 33]], fc=DARK, ec='none', zorder=4))
    ch.plot([cx - 5, cx + 5], [4, 4], color=DARK, lw=1.8, zorder=4)


flask(2343)
flask(2869)
# share
ch.add_patch(Rectangle((2122, 11), 24, 22, fc='none', ec=DARK, lw=1.4, zorder=4))
ch.add_patch(Polygon([[2130, 24], [2132, 14], [2140, 12], [2140, 6], [2151, 14], [2140, 21], [2140, 17], [2135, 18]],
                     fc=DARK, ec='#84dcff', lw=0.8, zorder=5))
# info
ch.add_patch(Rectangle((2261, 9), 26, 24, fc='none', ec=DARK, lw=1.4, zorder=4))
ch.add_patch(Circle((2283, 13), 8, fc=DARK, ec='#84dcff', lw=0.8, zorder=5))
# gear
ch.plot(2414.6, 18, marker=(8, 1, 0), ms=21, color=DARK, mec='none', zorder=4)
ch.plot(2414.6, 18, marker='o', ms=5.5, color='#84dcff', mec='none', zorder=5)
# candles
ch.plot([2566, 2566], [6, 30], color=DARK, lw=1.4, zorder=4)
ch.add_patch(Rectangle((2556, 16), 7, 12, fc=DARK, ec='none', zorder=4))
ch.add_patch(Rectangle((2564, 11), 7, 12, fc='none', ec=DARK, lw=1.2, zorder=4))
# hand
ch.add_patch(Polygon([[2687, 5], [2692, 5], [2692, 15], [2704, 19], [2704, 28], [2700, 33], [2687, 33], [2681, 22], [2687, 22]],
                     fc='none', ec=DARK, lw=1.3, zorder=4))
# patterns
ch.plot([3012, 3034], [5, 5], color=DARK, lw=2.2, zorder=4)
ch.plot([3014, 3018, 3022, 3026, 3032], [22, 10, 20, 10, 10], color=DARK, lw=1.3, zorder=4)
ch.plot([3014, 3034], [33, 18], color=DARK, lw=2.4, zorder=4)
# menu
for y in (8, 18, 28):
    ch.plot([3190, 3195], [y, y], color=DARK, lw=2, zorder=4)
    ch.plot([3198, 3206], [y, y], color=DARK, lw=2, zorder=4)

# study icon above the price scale
ch.plot([3075, 3106], [49, 49], color=DARK, lw=3, zorder=4)
ch.plot([3075, 3106], [76, 76], color=DARK, lw=3, zorder=4)
ch.plot([3075, 3083, 3088, 3092, 3098, 3106], [72, 70, 62, 58, 54, 54], color=DARK, lw=1.1, zorder=4)

# chart icon beside the title
ch.plot([70, 70, 108], [1543, 1582, 1582], color='#5a1a1a', lw=1.2, zorder=4)
ch.plot([73, 80, 84, 90, 94, 100, 106], [1578, 1564, 1572, 1552, 1566, 1556, 1546], color='black', lw=0.9, zorder=4)

fig.savefig('out.png', dpi=100, facecolor=STRIP)
